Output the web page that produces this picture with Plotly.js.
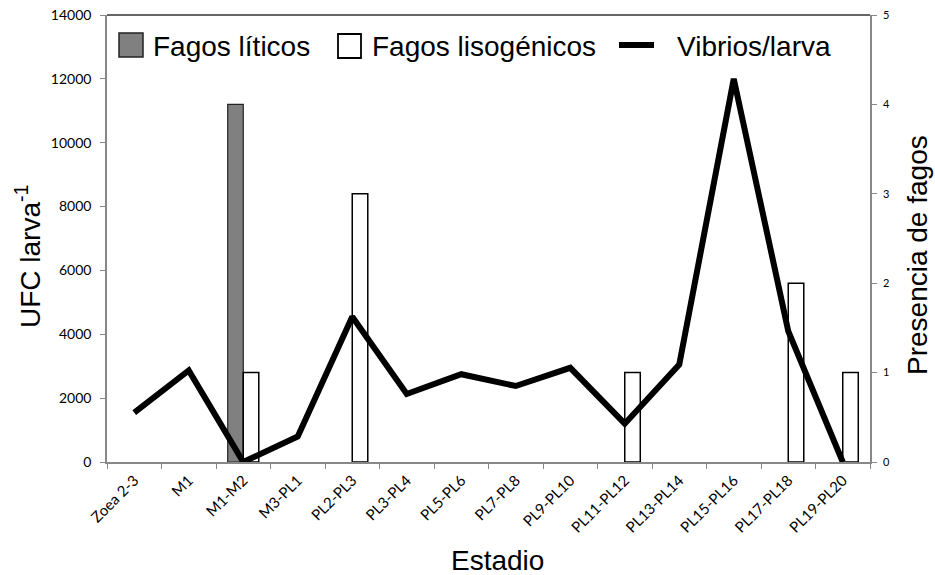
<!DOCTYPE html>
<html><head><meta charset="utf-8">
<script src="https://cdn.plot.ly/plotly-3.0.1.min.js"></script>
<style>body{margin:0;background:#fff}#c{width:935px;height:575px}</style>
</head><body><div id="c"></div>
<script>
const categories = ["Zoea 2-3","M1","M1-M2","M3-PL1","PL2-PL3","PL3-PL4","PL5-PL6","PL7-PL8","PL9-PL10","PL11-PL12","PL13-PL14","PL15-PL16","PL17-PL18","PL19-PL20"];
const fagosLiticos = [null,null,4,null,null,null,null,null,null,null,null,null,null,null];
const fagosLisogenicos = [null,null,1,null,3,null,null,null,null,1,null,null,2,1];
const vibriosLarva = [1550,2870,0,800,4550,2130,2750,2380,2950,1200,3050,12000,4100,0];
const seriesNames = ['Fagos líticos','Fagos lisogénicos','Vibrios/larva'];

const traces = [
  {type:'bar', name:seriesNames[0], x:categories, y:fagosLiticos, yaxis:'y',
   marker:{color:'#808080', line:{color:'#222', width:1.2}}},
  {type:'bar', name:seriesNames[1], x:categories, y:fagosLisogenicos, yaxis:'y',
   marker:{color:'#ffffff', line:{color:'#000', width:1.5}}},
  {type:'scatter', mode:'lines', name:seriesNames[2], x:categories, y:vibriosLarva, yaxis:'y2',
   line:{color:'#000', width:6}}
];
const arial = '"Liberation Sans", Arial, sans-serif';
const cal = 'Lato, "Open Sans", sans-serif';
const bigFont = {family:arial, size:28, color:'#000'};
const layout = {
  width:935, height:575,
  margin:{l:107, r:65, t:15, b:113},
  paper_bgcolor:'#fff', plot_bgcolor:'#fff',
  barmode:'group', bargap:0.43, bargroupgap:0,
  showlegend:false,
  xaxis:{type:'category', tickangle:-45, tickfont:{family:cal, size:15, color:'#000'}, showgrid:false,
    showline:true, linecolor:'#888', linewidth:1.5, ticks:'outside', tickson:'boundaries',
    ticklen:5, tickcolor:'#888', zeroline:false, ticklabelstandoff:2},
  yaxis:{range:[0,5], dtick:1, side:'right',
    tickfont:{family:cal, size:11, color:'#000'}, tickformat:'d', ticklabelstandoff:4,
    showgrid:false, showline:true, linecolor:'#888', linewidth:1.5, ticks:'outside', ticklen:5, tickcolor:'#888',
    zeroline:false},
  yaxis2:{range:[0,14000], dtick:2000, overlaying:'y', side:'left', tickformat:'d', ticklabelstandoff:6,
    tickfont:{family:cal, size:14, color:'#000'},
    showgrid:false, showline:true, linecolor:'#888', linewidth:1.5, ticks:'outside', ticklen:5, tickcolor:'#888',
    zeroline:false},
  shapes:[
    {type:'line', xref:'paper', yref:'paper', x0:0, x1:1, y0:1, y1:1, line:{color:'#333', width:1.5}},
    {type:'rect', xref:'paper', yref:'paper', x0:(119-107)/763, x1:(143-107)/763, y0:(462-57)/447, y1:(462-33)/447,
     fillcolor:'#808080', line:{color:'#222', width:1.5}},
    {type:'rect', xref:'paper', yref:'paper', x0:(338-107)/763, x1:(361-107)/763, y0:(462-58)/447, y1:(462-34)/447,
     fillcolor:'#ffffff', line:{color:'#000', width:1.8}},
    {type:'line', xref:'paper', yref:'paper', x0:(619-107)/763, x1:(654-107)/763, y0:(462-45)/447, y1:(462-45)/447,
     line:{color:'#000', width:6}}
  ],
  annotations:[
    {xref:'paper', yref:'paper', x:(151-107)/763, y:(462-46)/447, xanchor:'left', yanchor:'middle', showarrow:false,
     text:seriesNames[0], font:bigFont},
    {xref:'paper', yref:'paper', x:(370-107)/763, y:(462-46)/447, xanchor:'left', yanchor:'middle', showarrow:false,
     text:seriesNames[1], font:bigFont},
    {xref:'paper', yref:'paper', x:(675-107)/763, y:(462-46)/447, xanchor:'left', yanchor:'middle', showarrow:false,
     text:seriesNames[2], font:bigFont},
    {xref:'paper', yref:'paper', x:(28-107)/763, y:(462-257)/447, xanchor:'center', yanchor:'middle', showarrow:false,
     textangle:-90, text:'UFC larva<sup>-1</sup>', font:bigFont},
    {xref:'paper', yref:'paper', x:(917-107)/763, y:(462-255)/447, xanchor:'center', yanchor:'middle', showarrow:false,
     textangle:-90, text:'Presencia de fagos', font:bigFont},
    {xref:'paper', yref:'paper', x:(497-107)/763, y:(462-560)/447, xanchor:'center', yanchor:'middle', showarrow:false,
     text:'Estadio', font:bigFont}
  ]
};
Plotly.newPlot('c', traces, layout, {displayModeBar:false});
</script></body></html>
